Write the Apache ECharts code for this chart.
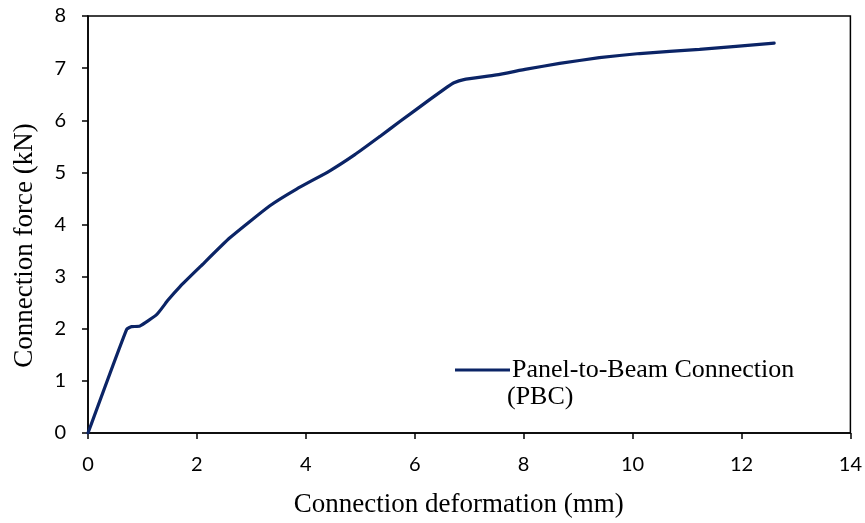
<!DOCTYPE html>
<html>
<head>
<meta charset="utf-8">
<script src="https://cdn.jsdelivr.net/npm/echarts@6/dist/echarts.min.js"></script>
<style>
  html, body { margin: 0; padding: 0; background: #fff; }
  #chart { width: 865px; height: 523px; }
</style>
</head>
<body>
<div id="chart"></div>
<script>
// Load–slip curve of the panel-to-beam connection
const deformation = [0, 0.71, 0.80, 0.95, 1.26, 1.47, 1.69, 2.06, 2.60, 3.34, 3.83, 4.44, 4.90, 5.36, 5.72, 6.28, 6.60, 6.72, 6.90, 7.50, 8.05, 8.66, 9.39, 10.13, 11.23, 12.60];
const force =       [0, 1.99, 2.04, 2.05, 2.27, 2.55, 2.81, 3.19, 3.74, 4.36, 4.68, 5.03, 5.34, 5.69, 5.97, 6.40, 6.64, 6.72, 6.78, 6.87, 6.98, 7.09, 7.20, 7.28, 7.36, 7.48];
const xTicks = [0, 2, 4, 6, 8, 10, 12, 14];
const yTicks = [0, 1, 2, 3, 4, 5, 6, 7, 8];
const seriesName = 'Panel-to-Beam Connection';
const seriesNameLine2 = '(PBC)';

const points = deformation.map((d, i) => [d, force[i]]);
const lineColor = '#0b2466';
const tickFont = { fontFamily: 'Lato', fontSize: 20, color: '#000' };
const titleFont = { fontFamily: 'Liberation Serif', fontSize: 27, color: '#000' };

const chart = echarts.init(document.getElementById('chart'), null, { renderer: 'canvas' });
chart.setOption({
  animation: false,
  backgroundColor: '#fff',
  grid: { left: 88, right: 14, top: 16, bottom: 90, show: true, borderColor: '#000', borderWidth: 1.5 },
  xAxis: {
    type: 'value', min: xTicks[0], max: xTicks[xTicks.length - 1], interval: 2,
    name: 'Connection deformation (mm)', nameLocation: 'middle', nameGap: 58,
    nameTextStyle: Object.assign({ padding: [0, 21, 0, 0] }, titleFont),
    axisLine: { lineStyle: { color: '#000', width: 1.5 } },
    axisTick: { show: true, inside: false, length: 6, lineStyle: { color: '#000', width: 1.5 } },
    axisLabel: Object.assign({ margin: 22 }, tickFont),
    splitLine: { show: false }
  },
  yAxis: {
    type: 'value', min: yTicks[0], max: yTicks[yTicks.length - 1], interval: 1,
    name: 'Connection force (kN)', nameLocation: 'middle', nameGap: 50,
    nameTextStyle: Object.assign({ padding: [0, 42, 0, 0] }, titleFont),
    axisLine: { show: true, lineStyle: { color: '#000', width: 1.5 } },
    axisTick: { show: true, inside: false, length: 6, lineStyle: { color: '#000', width: 1.5 } },
    axisLabel: Object.assign({ margin: 22 }, tickFont),
    splitLine: { show: false }
  },
  legend: {
    data: [seriesName],
    left: 450, top: 352,
    icon: 'rect', itemWidth: 55, itemHeight: 3, itemGap: 0,
    textStyle: { fontFamily: 'Liberation Serif', fontSize: 26, color: '#000', padding: [0, 0, 0, -3] }
  },
  graphic: [{
    type: 'text', left: 507, top: 384,
    style: { text: seriesNameLine2, font: '26px "Liberation Serif"', fill: '#000' }
  }],
  series: [{
    name: seriesName,
    type: 'line',
    data: points,
    smooth: 0.15,
    showSymbol: false,
    lineStyle: { color: lineColor, width: 3.2, cap: 'round' },
    itemStyle: { color: lineColor }
  }]
});
</script>
</body>
</html>
